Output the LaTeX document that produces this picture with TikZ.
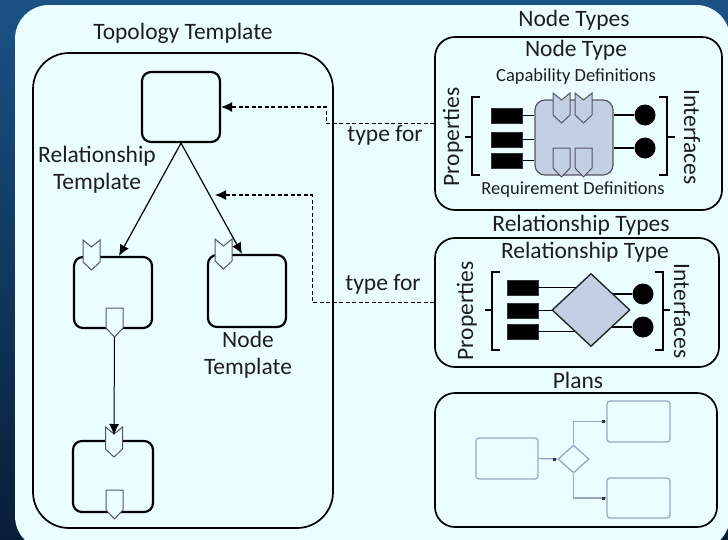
\documentclass[tikz,border=0pt]{standalone}
\usepackage{fontspec}
\setmainfont{Carlito}
\usetikzlibrary{arrows.meta,shapes.geometric}
\definecolor{panel}{HTML}{EAFEFF}
\definecolor{bgtop}{HTML}{1A5286}
\definecolor{bgbot}{HTML}{071E36}
\definecolor{gridfill}{HTML}{C3D0E4}
\definecolor{planline}{HTML}{98A6C8}
\definecolor{symline}{HTML}{555566}
\definecolor{txt}{HTML}{1E1E1E}
\begin{document}
\begin{tikzpicture}[x=1pt,y=-1pt,
  big/.style={font=\fontsize{23.5}{27}\selectfont, align=center, inner sep=0pt, text=txt},
  small/.style={font=\fontsize{18.5}{21}\selectfont, inner sep=0pt, text=txt},
  frame/.style={draw=black, line width=1.7pt, rounded corners=20pt, inner sep=0pt},
  tbox/.style={draw=black, line width=2.2pt, rounded corners=9pt, fill=panel, inner sep=0pt},
  conn/.style={draw=black, line width=1.2pt},
  typeline/.style={draw=black, line width=1.2pt, dash pattern=on 4pt off 2.5pt},
  tip/.style={-{Latex[length=11pt,width=10pt]}},
  propbox/.style={fill=black, draw=black!80, minimum width=31, minimum height=15, inner sep=0pt},
  iface/.style={circle, fill=black, minimum size=21, inner sep=0pt},
  symstyle/.style={draw=symline, line width=1pt, fill=panel},
  gsym/.style={draw=symline, line width=1pt, fill=gridfill},
  bracket/.style={draw=black, line width=1.3pt},
  planbox/.style={draw=planline, line width=1.3pt, rounded corners=3pt, inner sep=0pt},
  capsym/.pic={\draw[pic actions] (0,0) -- (8.5,7) -- (17,0) -- (17,22) -- (8.5,30) -- (0,22) -- cycle;},
  reqsym/.pic={\draw[pic actions] (0,0) -- (17,0) -- (17,20) -- (8.5,29) -- (0,20) -- cycle;}
]
\useasboundingbox (0,0) rectangle (728,539);
\clip (0,0) rectangle (728,539);
\shade[top color=bgtop, bottom color=bgbot] (0,0) rectangle (728,539);
\fill[panel, rounded corners=34pt] (15,5) rectangle (730,550);

% ---------- Topology Template ----------
\node[big] (toptitle) at (183,33) {Topology Template};
\node[frame, rounded corners=36pt, minimum width=300, minimum height=475] (topo) at (183,290.5) {};

\node[tbox, minimum width=78, minimum height=70] (top) at (181,107) {};
\node[tbox, minimum width=78, minimum height=71] (left) at (113,292.5) {};
\node[tbox, minimum width=78, minimum height=72] (mid) at (247,291) {};
\node[tbox, minimum width=80, minimum height=71] (low) at (113,476.5) {};

\pic[symstyle] at (83,240) {capsym};
\pic[symstyle] at (215,239) {capsym};
\pic[symstyle] at (106,308) {reqsym};
\pic[symstyle] at (105.5,427) {capsym};
\pic[symstyle] at (106,490) {reqsym};

\node[big] (reltpl) at (97,170) {Relationship\\Template};
\node[big] (nodetpl) at (248,355) {Node\\Template};

\draw[conn, tip] (top.south) -- ([xshift=6pt]left.north);
\draw[conn, tip] (top.south) -- ([xshift=-5pt]mid.north);
\coordinate (lreqtip) at (114.5,337);
\coordinate (lowcapnotch) at (114,435);
\draw[conn, line width=1pt, tip] (lreqtip) -- (lowcapnotch);

% ---------- Node Types ----------
\node[big] (nttitle) at (574,20) {Node Types};
\node[frame, minimum width=287, minimum height=173] (nt) at (578.5,123.5) {};
\node[big] (ntname) at (576,50) {Node Type};
\node[small] (capdef) at (576,77) {Capability Definitions};
\node[small] (reqdef) at (573,190) {Requirement Definitions};
\node[big, rotate=90] (ntprop) at (453,137) {Properties};
\node[big, rotate=-90] (ntif) at (692,137) {Interfaces};

\node[propbox] (np1) at (507,115.5) {};
\node[propbox] (np2) at (507,139.5) {};
\node[propbox] (np3) at (507,160.5) {};
\node[iface] (ni1) at (645,115) {};
\node[iface] (ni2) at (645,148) {};
\node[draw=symline, line width=1.2pt, fill=gridfill, rounded corners=10pt, minimum width=78, minimum height=75, inner sep=0pt] (ncore) at (574,137.5) {};
\draw[conn] (np1.east) -- (np1.east -| ncore.west);
\draw[conn] (np2.east) -- (np2.east -| ncore.west);
\draw[conn] (np3.east) -- (np3.east -| ncore.west);
\draw[conn] (ni1.west -| ncore.east) -- (ni1.west);
\draw[conn] (ni2.west -| ncore.east) -- (ni2.west);
\pic[gsym] at (553,93) {capsym};
\pic[gsym] at (575,93) {capsym};
\pic[gsym] at (553,148) {reqsym};
\pic[gsym] at (575,148) {reqsym};

\draw[bracket] (480,97) -- (472,97) -- (472,175) -- (480,175);
\draw[bracket] (472,137) -- (465,137);
\draw[bracket] (659,97) -- (667,97) -- (667,175) -- (659,175);
\draw[bracket] (667,137) -- (675,137);

% ---------- Relationship Types ----------
\node[big] (rttitle) at (581,225) {Relationship Types};
\node[frame, minimum width=284, minimum height=129] (rt) at (577,302.5) {};
\node[big] (rtname) at (585,252) {Relationship Type};
\node[big, rotate=90] (rtprop) at (467,311) {Properties};
\node[big, rotate=-90] (rtif) at (682,311) {Interfaces};

\node[propbox] (rp1) at (522.5,287.5) {};
\node[propbox] (rp2) at (522.5,310.5) {};
\node[propbox] (rp3) at (522.5,331.5) {};
\node[iface] (ri1) at (643,294) {};
\node[iface] (ri2) at (643,327) {};
\coordinate (rdc) at (591,310);
\draw[conn] (rp1.east) -- (rp1.east -| rdc);
\draw[conn] (rp2.east) -- (rp2.east -| rdc);
\draw[conn] (rp3.east) -- (rp3.east -| rdc);
\draw[conn] (ri1.west -| rdc) -- (ri1.west);
\draw[conn] (ri2.west -| rdc) -- (ri2.west);
\node[diamond, draw=black!85, line width=1.4pt, fill=gridfill, minimum width=78, minimum height=73, inner sep=0pt] (rdia) at (rdc) {};

\draw[bracket] (500,272) -- (492,272) -- (492,350) -- (500,350);
\draw[bracket] (492,310) -- (485,310);
\draw[bracket] (655,272) -- (663,272) -- (663,350) -- (655,350);
\draw[bracket] (663,310) -- (670,310);

% ---------- Plans ----------
\node[big] (pltitle) at (578,380) {Plans};
\node[frame, minimum width=282, minimum height=134] (plans) at (576,460) {};
\node[planbox, minimum width=62, minimum height=41] (pl) at (507,458.5) {};
\node[diamond, draw=planline, line width=1.3pt, minimum width=31, minimum height=28, inner sep=0pt] (pd) at (573.5,459) {};
\node[planbox, minimum width=63, minimum height=41] (pu) at (638.5,421.5) {};
\node[planbox, minimum width=63, minimum height=40] (pw) at (638.5,498) {};
\draw[draw=planline, line width=1.3pt] (pl.east) -- (pd.west);
\draw[draw=planline, line width=1.3pt] (pd.north) |- (pu.west);
\draw[draw=planline, line width=1.3pt] (pd.south) |- (pw.west);
\fill[black!80] (pd.west) ++(-4,-1.5) rectangle ++(3,3);
\fill[black!80] (pu.west) ++(-4,-1.5) rectangle ++(3,3);
\fill[black!80] (pw.west) ++(-4,-1.5) rectangle ++(3,3);

% ---------- type-for connectors ----------
\draw[typeline, tip] (nt.west) -- ++(-108,0) |- (top.east);
\coordinate (reltarget) at (215,195);
\draw[typeline, tip] (rt.west) -- ++(-122,0) |- (reltarget);
\node[big] (tf1) at (385,135) {type for};
\node[big] (tf2) at (383,284) {type for};
\end{tikzpicture}
\end{document}
